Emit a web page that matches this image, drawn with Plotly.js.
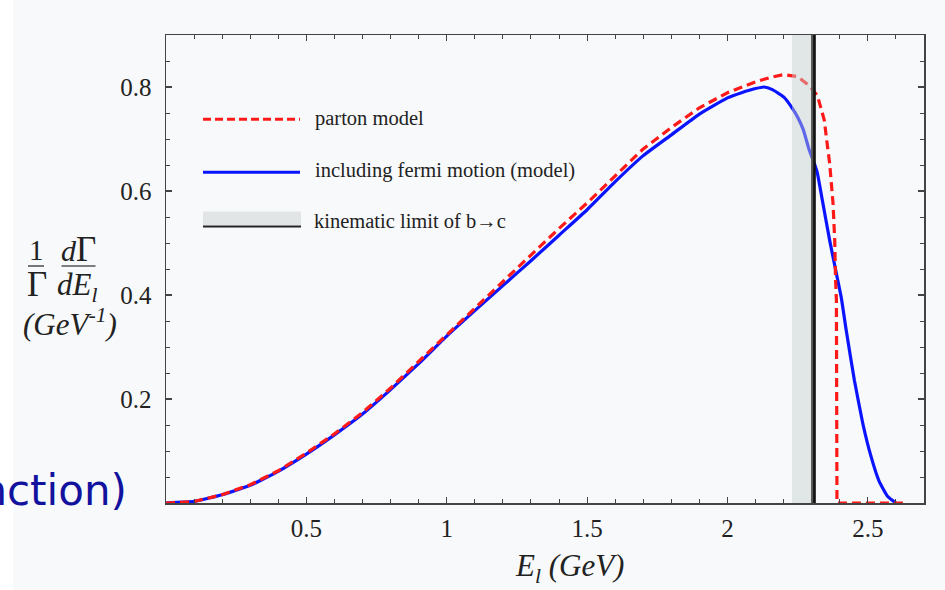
<!DOCTYPE html>
<html>
<head>
<meta charset="utf-8">
<script src="https://cdn.plot.ly/plotly-3.0.1.min.js"></script>
<style>
html,body{margin:0;padding:0;background:#f8f9fa;}
#chart{width:945px;height:590px;}
</style>
</head>
<body>
<div id="chart"></div>
<script>
// ---- data ----
const blueE = [0,0.1,0.2,0.3,0.4,0.5,0.6,0.7,0.8,0.9,1.0,1.1,1.2,1.3,1.4,1.5,1.6,1.7,1.8,1.9,2.0,2.05,2.1,2.13,2.16,2.2,2.23,2.25,2.27,2.29,2.31,2.32,2.34,2.364,2.388,2.405,2.423,2.452,2.482,2.51,2.54,2.57,2.6];
const blueV = [0,0.003,0.016,0.034,0.061,0.094,0.131,0.171,0.218,0.268,0.321,0.370,0.418,0.466,0.515,0.564,0.618,0.668,0.708,0.748,0.779,0.789,0.797,0.800,0.795,0.781,0.760,0.742,0.718,0.681,0.652,0.635,0.576,0.505,0.441,0.396,0.332,0.236,0.153,0.092,0.042,0.013,0];
const redE = [0,0.1,0.2,0.3,0.4,0.5,0.6,0.7,0.8,0.9,1.0,1.1,1.2,1.3,1.4,1.5,1.6,1.7,1.8,1.9,2.0,2.05,2.1,2.15,2.2,2.25,2.29,2.32,2.335,2.345,2.352,2.364,2.376,2.382,2.385,2.388,2.39,2.64];
const redV = [0,0.003,0.016,0.035,0.062,0.096,0.133,0.174,0.221,0.272,0.325,0.376,0.427,0.478,0.528,0.577,0.630,0.681,0.722,0.760,0.789,0.800,0.810,0.818,0.824,0.820,0.803,0.784,0.758,0.736,0.704,0.653,0.576,0.505,0.430,0.390,0,0];
const bandRange = [2.23, 2.30];
const limitE = 2.31;
const xTicks = [0.5,1,1.5,2,2.5];
const xTickText = ['0.5','1','1.5','2','2.5'];
const yTicks = [0.2,0.4,0.6,0.8];
const yTickText = ['0.2','0.4','0.6','0.8'];
const legendLabels = ['parton model','including fermi motion (model)','kinematic limit of b\u2192c'];

// ---- layout helpers (pixel -> paper) ----
const L = 166, R = 924, T = 35, B = 503;
const W = 945, H = 590;
const px = x => (x - L) / (R - L);
const py = y => (B - y) / (B - T);
const serif = '"Liberation Serif","Times New Roman",serif';

const traces = [
  {x: blueE, y: blueV, type:'scatter', mode:'lines', name: legendLabels[1],
   line:{color:'#0a14ff', width:3.2, shape:'spline', smoothing:0.4}, showlegend:false, hoverinfo:'skip'},
  {x: redE, y: redV, type:'scatter', mode:'lines', name: legendLabels[0],
   line:{color:'#ff1a1a', width:3.2, dash:'9px,5px'}, showlegend:false, hoverinfo:'skip'}
];

const shapes = [
  // kinematic band
  {type:'rect', xref:'x', yref:'paper', x0:bandRange[0], x1:bandRange[1], y0:0, y1:1,
   fillcolor:'rgb(198,206,206)', opacity:0.45, line:{width:0}, layer:'above'},
  {type:'line', xref:'x', yref:'paper', x0:bandRange[1]+0.003, x1:bandRange[1]+0.003, y0:0, y1:1,
   line:{color:'#555', width:3}, layer:'above'},
  {type:'line', xref:'x', yref:'paper', x0:limitE, x1:limitE, y0:0, y1:1,
   line:{color:'#111', width:2.6}, layer:'above'},
  // legend samples
  {type:'line', xref:'paper', yref:'paper', x0:px(203), x1:px(300), y0:py(119.3), y1:py(119.3),
   line:{color:'#ff1a1a', width:3, dash:'8px,4px'}},
  {type:'line', xref:'paper', yref:'paper', x0:px(203), x1:px(300), y0:py(172.3), y1:py(172.3),
   line:{color:'#0a14ff', width:3}},
  {type:'rect', xref:'paper', yref:'paper', x0:px(203), x1:px(301), y0:py(225), y1:py(211.5),
   fillcolor:'#e1e5e5', line:{width:0}},
  {type:'line', xref:'paper', yref:'paper', x0:px(203), x1:px(301), y0:py(226.5), y1:py(226.5),
   line:{color:'#222', width:2}},
  // y title fraction bars
  {type:'line', xref:'paper', yref:'paper', x0:px(28), x1:px(44), y0:py(266), y1:py(266),
   line:{color:'#555', width:1.6}},
  {type:'line', xref:'paper', yref:'paper', x0:px(61.5), x1:px(95.5), y0:py(266), y1:py(266),
   line:{color:'#555', width:1.6}},
  // white strip at the far left
  {type:'rect', xref:'paper', yref:'paper', x0:px(0), x1:px(13), y0:py(H), y1:py(0),
   fillcolor:'#ffffff', line:{width:0}, layer:'below'}
];

function ann(text, x, y, size, opts){
  return Object.assign({text:text, xref:'paper', yref:'paper', x:px(x), y:py(y),
    xanchor:'center', yanchor:'middle', showarrow:false,
    font:{family:serif, size:size, color:'#222'}}, opts||{});
}

const annotations = [
  ann(legendLabels[0], 313, 118, 20.5, {xanchor:'left'}),
  ann(legendLabels[1], 313, 171, 20.5, {xanchor:'left'}),
  ann(legendLabels[2], 312, 221, 20.5, {xanchor:'left'}),
  ann('<i>E<sub>l</sub> (GeV)</i>', 569, 568, 31),
  ann('1', 36.5, 250, 29),
  ann('\u0393', 37, 284, 35),
  ann('<i>d</i><span style="font-size:35px">\u0393</span>', 78.5, 249, 30),
  ann('<i>dE<sub>l</sub></i>', 77, 287, 31),
  ann('<i>(GeV<sup>-1</sup>)</i>', 70, 322, 31),
  {text:'function)', xref:'paper', yref:'paper', x:px(129), y:py(490), xanchor:'right', yanchor:'middle',
   showarrow:false, font:{family:'"DejaVu Sans", sans-serif', size:42, color:'#12129e'}}
];

const axisCommon = {
  showgrid:false, zeroline:false, showline:true, linecolor:'#444', linewidth:1.5,
  mirror:'ticks', ticks:'inside', ticklen:6, tickwidth:1.2, tickcolor:'#444',
  tickfont:{family:serif, size:25, color:'#222'}
};

const layout = {
  width:W, height:H,
  margin:{l:L, r:W-R, t:T, b:H-B},
  paper_bgcolor:'#f8f9fa', plot_bgcolor:'#f8f9fa',
  xaxis: Object.assign({}, axisCommon, {range:[0,2.7], tickvals:xTicks, ticktext:xTickText,
    ticklabelstandoff:2,
    minor:{dtick:0.1, tick0:0, ticks:'inside', ticklen:4, tickcolor:'#444', tickwidth:1}}),
  yaxis: Object.assign({}, axisCommon, {range:[0,0.9], tickvals:yTicks, ticktext:yTickText,
    ticklabelstandoff:8,
    minor:{dtick:0.05, tick0:0, ticks:'inside', ticklen:4, tickcolor:'#444', tickwidth:1}}),
  shapes: shapes,
  annotations: annotations,
  showlegend:false
};

Plotly.newPlot('chart', traces, layout, {staticPlot:true, displayModeBar:false});
</script>
</body>
</html>
